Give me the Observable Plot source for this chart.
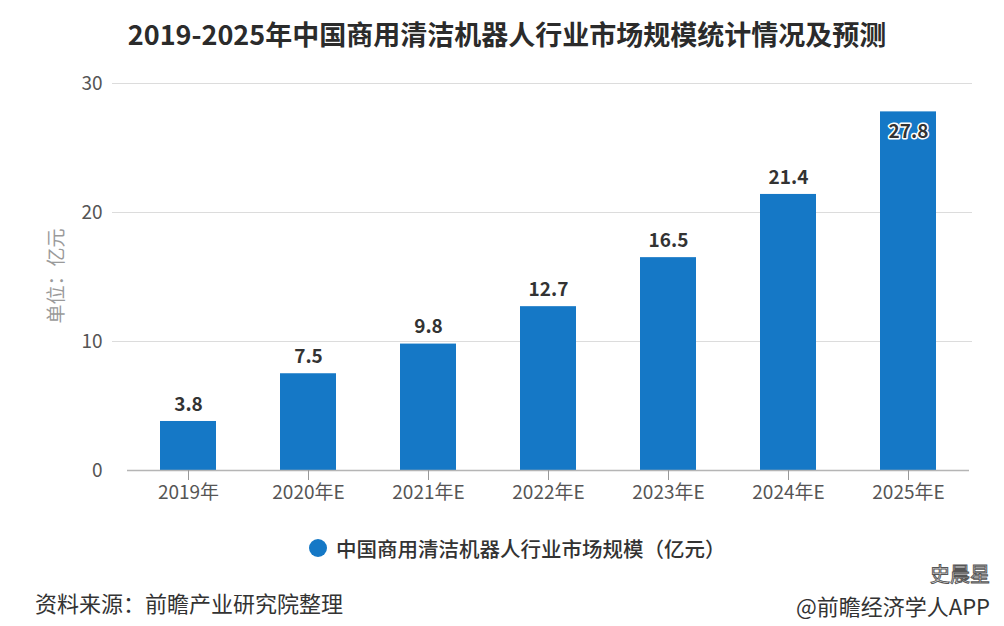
<!DOCTYPE html>
<html>
<head>
<meta charset="utf-8">
<script src="https://cdn.jsdelivr.net/npm/d3@7"></script>
<script src="https://cdn.jsdelivr.net/npm/@observablehq/plot@0.6"></script>
<style>
  html, body { margin: 0; padding: 0; background: #fff; }
  #wrap { position: relative; width: 1004px; height: 626px; overflow: hidden; font-family: "Noto Sans CJK SC", "Noto Sans", sans-serif; background:#fff; }
  #chart { position: absolute; left: 0; top: 0; }
  .t { position: absolute; white-space: nowrap; }
  #title { left: 0; width: 1014px; text-align: center; top: 16px; font-size: 27px; line-height: 36px; font-weight: bold; color: #2b2b2b; }
  #ylab { left: 55px; top: 276px; transform: translate(-50%, -50%) rotate(-90deg); font-size: 19px; line-height: 24px; color: #9a9a9a; }
  #legend { left: 309px; top: 534px; height: 28px; display: flex; align-items: center; font-size: 20.5px; color: #333; font-weight: 500; }
  #legend .dot { width: 18px; height: 18px; border-radius: 50%; background: #1578c6; margin-right: 9px; }
  #src { left: 35px; top: 587px; font-size: 22px; line-height: 30px; color: #333; }
  #app { right: 14px; top: 591px; font-size: 22px; line-height: 28px; color: #333; }
  #wm { right: 14px; top: 562px; font-size: 20px; line-height: 24px; color: #fff; -webkit-text-stroke: 1px #555; }
</style>
</head>
<body>
<div id="wrap">
  <div id="chart"></div>
  <div class="t" id="title">2019-2025年中国商用清洁机器人行业市场规模统计情况及预测</div>
  <div class="t" id="ylab">单位：亿元</div>
  <div class="t" id="legend"><span class="dot"></span><span>中国商用清洁机器人行业市场规模（亿元）</span></div>
  <div class="t" id="wm">史晨星</div>
  <div class="t" id="src">资料来源：前瞻产业研究院整理</div>
  <div class="t" id="app">@前瞻经济学人APP</div>
</div>
<script>
const years = ["2019年", "2020年E", "2021年E", "2022年E", "2023年E", "2024年E", "2025年E"];
const values = [3.8, 7.5, 9.8, 12.7, 16.5, 21.4, 27.8];
const yTicks = [0, 10, 20, 30];

const data = years.map((year, i) => ({year, value: values[i]}));
const maxV = d3.max(values);
const outside = data.filter(d => d.value < maxV);
const inside = data.filter(d => d.value === maxV);

const chart = Plot.plot({
  width: 1004,
  height: 626,
  marginTop: 83,
  marginBottom: 156,
  marginLeft: 127,
  marginRight: 35,
  style: {fontFamily: "'Noto Sans CJK SC', 'Noto Sans', sans-serif", background: "transparent"},
  x: {domain: years, paddingInner: 0.53, paddingOuter: 0.265, label: null},
  y: {domain: [0, 30], ticks: yTicks, label: null},
  marks: [
    Plot.ruleY(yTicks.filter(t => t > 0), {stroke: "#dcdcdc", strokeWidth: 1.2, insetLeft: -15, insetRight: -3}),
    Plot.barY(data, {x: "year", y: "value", fill: "#1578c6"}),
    Plot.ruleY([0], {stroke: "#b5b5b5", strokeWidth: 1.5}),
    Plot.axisX({tickSize: 10, tickPadding: 5, fontSize: 19, stroke: "#999", fill: "#555", label: null}),
    Plot.axisY({ticks: yTicks, tickSize: 0, tickPadding: 25, fontSize: 19, fill: "#555", label: null}),
    Plot.text(outside, {x: "year", y: "value", text: d => d.value.toFixed(1), dy: -17, fontSize: 19, fontWeight: "bold", fill: "#333"}),
    Plot.text(inside, {x: "year", y: "value", text: d => d.value.toFixed(1), dy: 20, fontSize: 19, fontWeight: "bold", fill: "#333", stroke: "#fff", strokeWidth: 3})
  ]
});
document.getElementById("chart").appendChild(chart);
</script>
</body>
</html>
